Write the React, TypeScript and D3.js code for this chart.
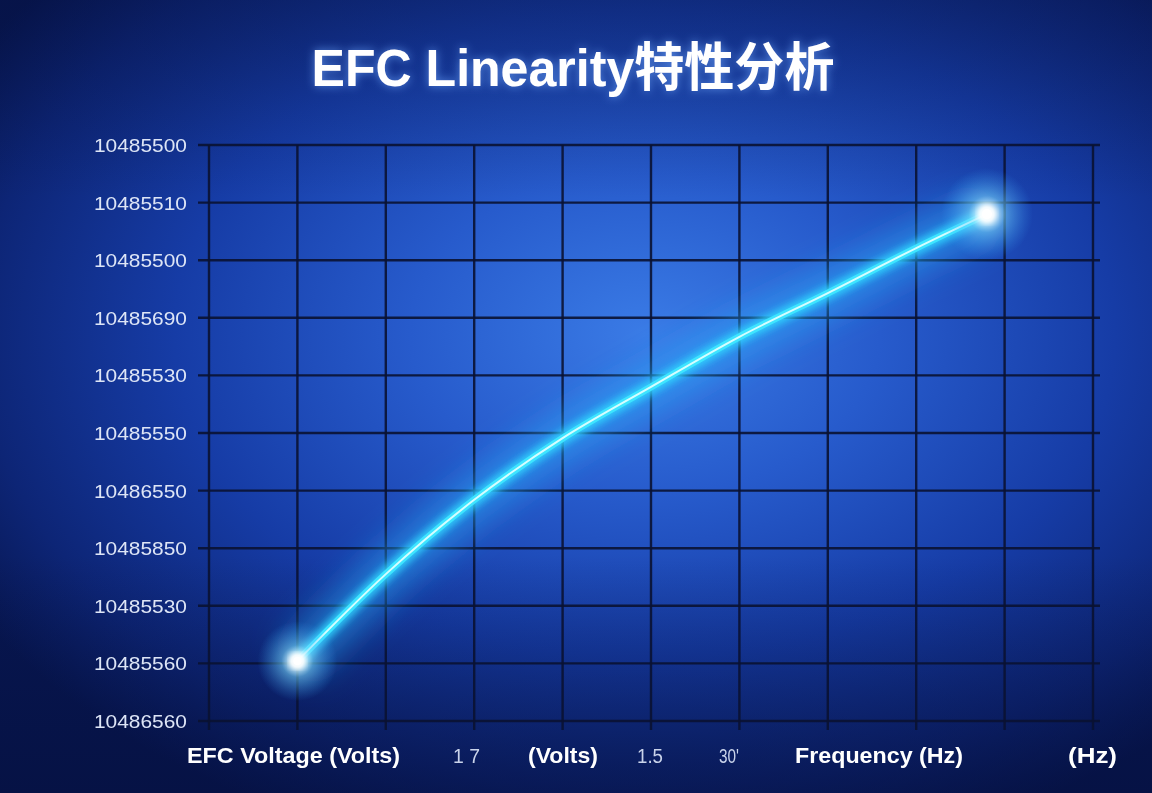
import React from 'react';
import * as d3 from 'd3';

// EFC voltage steps (grid units) and the measured frequency response (grid units)
const voltageSteps = [1, 2, 3, 4, 5, 6, 7, 8, 8.8];
const frequencyResponse = [1.04, 2.55, 3.84, 4.91, 5.8, 6.67, 7.43, 8.21, 8.8];

// tick labels as printed on the source chart (top to bottom)
const yTickLabels = [
  '10485500', '10485510', '10485500', '10485690', '10485530', '10485550',
  '10486550', '10485850', '10485530', '10485560', '10486560',
];
const xLabels = ['EFC Voltage (Volts)', '1 7', '(Volts)', '1.5', '30\'', 'Frequency (Hz)', '(Hz)'];

const W = 1152;
const H = 793;

const App: React.FC = () => {
  const x = d3.scaleLinear().domain([0, 10]).range([209, 1093]);
  const y = d3.scaleLinear().domain([10, 0]).range([145, 721]);

  const gridX = d3.range(0, 11);
  const gridY = d3.range(0, 11);

  const pts: [number, number][] = voltageSteps.map((v, i) => [x(v), y(frequencyResponse[i])]);
  const line = d3.line<[number, number]>().curve(d3.curveMonotoneX)(pts) || '';
  const first = pts[0];
  const last = pts[pts.length - 1];

  // bottom label placement: [left x, bold?, width]
  const xLabelLayout: [number, boolean, number][] = [
    [187, true, 213],
    [453, false, 27],
    [528, true, 70],
    [637, false, 26],
    [719, false, 20],
    [795, true, 168],
    [1068, true, 49],
  ];

  return (
    <div style={{ position: 'fixed', left: 0, top: 0, width: W, height: H }}>
      <svg width={W} height={H} style={{ display: 'block' }}>
        <defs>
          <radialGradient id="bg" cx="0.56" cy="0.42" r="0.68" gradientUnits="objectBoundingBox">
            <stop offset="0" stopColor="#3a7be6" />
            <stop offset="0.3" stopColor="#275bcc" />
            <stop offset="0.6" stopColor="#163ca6" />
            <stop offset="0.85" stopColor="#0d2576" />
            <stop offset="1" stopColor="#071650" />
          </radialGradient>
          <linearGradient id="shade" x1="0" y1="0" x2="0" y2="1">
            <stop offset="0" stopColor="#050f3c" stopOpacity="0.35" />
            <stop offset="0.25" stopColor="#050f3c" stopOpacity="0" />
            <stop offset="0.7" stopColor="#050f3c" stopOpacity="0" />
            <stop offset="1" stopColor="#050f3c" stopOpacity="0.55" />
          </linearGradient>
          <radialGradient id="dot">
            <stop offset="0" stopColor="#ffffff" stopOpacity="1" />
            <stop offset="0.15" stopColor="#f0fcff" stopOpacity="0.95" />
            <stop offset="0.4" stopColor="#7fdcff" stopOpacity="0.5" />
            <stop offset="1" stopColor="#3aa8ff" stopOpacity="0" />
          </radialGradient>
          <filter id="blurWide" x="-20%" y="-20%" width="140%" height="140%">
            <feGaussianBlur stdDeviation="16" />
          </filter>
          <filter id="blurMid" x="-20%" y="-20%" width="140%" height="140%">
            <feGaussianBlur stdDeviation="3.5" />
          </filter>
          <filter id="titleGlow" x="-10%" y="-40%" width="120%" height="180%">
            <feGaussianBlur in="SourceAlpha" stdDeviation="5" result="b" />
            <feFlood floodColor="#6fa8ff" floodOpacity="0.7" />
            <feComposite in2="b" operator="in" result="g" />
            <feMerge>
              <feMergeNode in="g" />
              <feMergeNode in="SourceGraphic" />
            </feMerge>
          </filter>
        </defs>

        <rect width={W} height={H} fill="url(#bg)" />
        <rect width={W} height={H} fill="url(#shade)" />

        <text
          x={573}
          y={86}
          textAnchor="middle"
          fill="#ffffff"
          fontSize={52}
          fontWeight="bold"
          fontFamily="'Liberation Sans', 'Noto Sans CJK SC', sans-serif"
          textLength={523}
          lengthAdjust="spacingAndGlyphs"
          filter="url(#titleGlow)"
        >
          EFC Linearity特性分析
        </text>

        {/* grid */}
        <g stroke="#0a1232" strokeWidth={2.4} strokeOpacity={0.9}>
          {gridY.map((v) => (
            <line key={'h' + v} x1={198} x2={1100} y1={y(v)} y2={y(v)} />
          ))}
          {gridX.map((v) => (
            <line key={'v' + v} x1={x(v)} x2={x(v)} y1={y(10)} y2={y(0) + 9} />
          ))}
        </g>

        {/* y tick labels */}
        <g fontFamily="'Liberation Sans', 'DejaVu Sans', sans-serif" fontSize={19} fill="#dde5f6">
          {yTickLabels.map((t, i) => (
            <text key={i} x={187} y={y(10 - i) + 7} textAnchor="end" textLength={93} lengthAdjust="spacingAndGlyphs">
              {t}
            </text>
          ))}
        </g>

        {/* glowing curve */}
        <path d={line} fill="none" stroke="#28b4ff" strokeWidth={44} strokeOpacity={0.5} filter="url(#blurWide)" />
        <path d={line} fill="none" stroke="#30d4ff" strokeWidth={14} strokeOpacity={0.85} filter="url(#blurMid)" />
        <path d={line} fill="none" stroke="#3ee4ff" strokeWidth={7} strokeLinecap="round" />
        <path d={line} fill="none" stroke="#d6fdff" strokeWidth={2} strokeLinecap="round" />

        <circle cx={first[0]} cy={first[1]} r={40} fill="url(#dot)" />
        <circle cx={first[0]} cy={first[1]} r={7} fill="#ffffff" filter="url(#blurMid)" />
        <circle cx={first[0]} cy={first[1]} r={4} fill="#ffffff" />
        <circle cx={last[0]} cy={last[1]} r={46} fill="url(#dot)" />
        <circle cx={last[0]} cy={last[1]} r={8} fill="#ffffff" filter="url(#blurMid)" />
        <circle cx={last[0]} cy={last[1]} r={5} fill="#ffffff" />

        {/* bottom labels */}
        <g fontFamily="'Liberation Sans', 'DejaVu Sans', sans-serif">
          {xLabels.map((t, i) => {
            const [lx, bold, w] = xLabelLayout[i];
            return (
              <text
                key={i}
                x={lx}
                y={763}
                fontSize={bold ? 22 : 20}
                fontWeight={bold ? 'bold' : 'normal'}
                fill={bold ? '#ffffff' : '#c9d3ea'}
                textLength={w}
                lengthAdjust="spacingAndGlyphs"
              >
                {t}
              </text>
            );
          })}
        </g>
      </svg>
    </div>
  );
};

export default App;
